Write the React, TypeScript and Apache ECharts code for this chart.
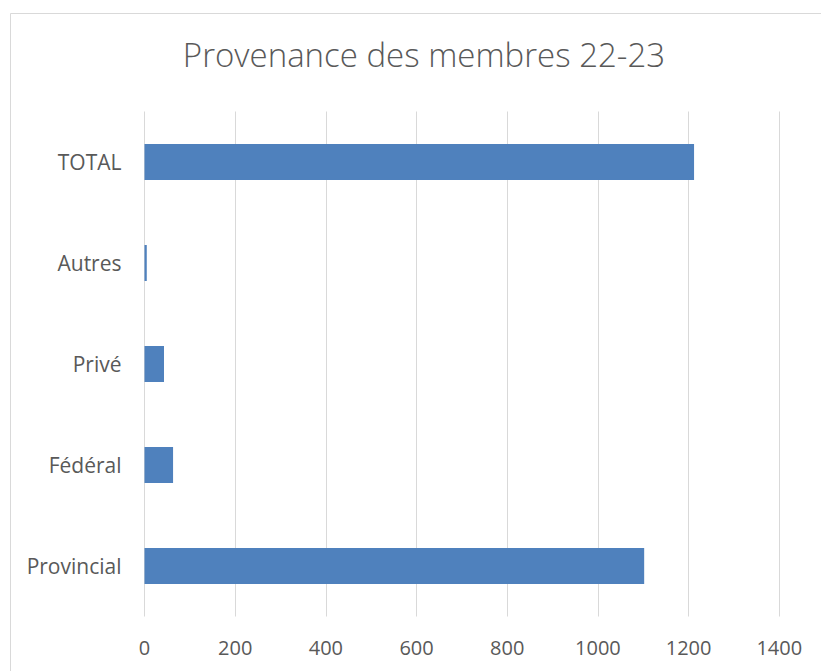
import React, { useEffect, useRef } from "react";
import * as echarts from "echarts";

const categories = ["Provincial", "Fédéral", "Privé", "Autres", "TOTAL"];
const values = [1102, 63, 43, 5, 1212];
const xTicks = { min: 0, max: 1400, interval: 200 };
const titleText = "Provenance des membres 22-23";

export default function App() {
  const ref = useRef<HTMLDivElement>(null);
  useEffect(() => {
    document.body.style.margin = "0";
    const chart = echarts.init(ref.current!, null, { renderer: "svg" });
    chart.setOption({
      animation: false,
      backgroundColor: "#ffffff",
      textStyle: { fontFamily: "Open Sans" },
      title: {
        text: titleText,
        left: 419,
        top: 33,
        textAlign: "center",
        textStyle: { fontFamily: "Open Sans", fontSize: 33, fontWeight: 300, color: "#595959" },
      },
      graphic: [
        {
          type: "rect",
          shape: { x: 10.5, y: 13.5, width: 900, height: 900 },
          style: { fill: "none", stroke: "#d9d9d9", lineWidth: 1 },
          silent: true,
        },
      ],
      grid: { left: 144.5, right: 41.7, top: 111.5, bottom: 54.5, containLabel: false },
      xAxis: {
        type: "value",
        min: xTicks.min,
        max: xTicks.max,
        interval: xTicks.interval,
        axisLine: { show: false },
        axisTick: { show: false },
        splitLine: { show: true, lineStyle: { color: "#d9d9d9", width: 1 } },
        axisLabel: {
          fontFamily: "Open Sans",
          fontSize: 20,
          color: "#595959",
          margin: 21,
          formatter: (v: number) => String(v),
        },
      },
      yAxis: {
        type: "category",
        data: categories,
        axisLine: { show: false },
        axisTick: { show: false },
        splitLine: { show: false },
        axisLabel: { fontFamily: "Open Sans", fontSize: 21, color: "#595959", margin: 23 },
      },
      series: [
        {
          type: "bar",
          data: values,
          barWidth: 36,
          itemStyle: { color: "#4f81bd" },
        },
      ],
    });
    return () => chart.dispose();
  }, []);
  return <div ref={ref} style={{ width: 821, height: 671 }} />;
}
